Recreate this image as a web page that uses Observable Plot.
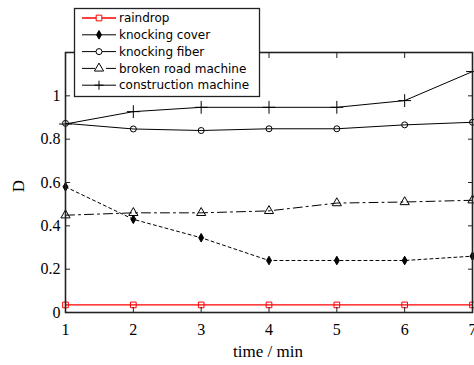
<!DOCTYPE html>
<html>
<head>
<meta charset="utf-8">
<script src="https://cdn.jsdelivr.net/npm/d3@7"></script>
<script src="https://cdn.jsdelivr.net/npm/@observablehq/plot@0.6"></script>
<style>
  html, body { margin: 0; padding: 0; background: #fff; }
  #chart svg { display: block; }
</style>
</head>
<body>
<div id="chart"></div>
<script>
const times = [1, 2, 3, 4, 5, 6, 7];
const seriesNames = ["raindrop", "knocking cover", "knocking fiber", "broken road machine", "construction machine"];
const raindrop = [0.035, 0.035, 0.035, 0.035, 0.035, 0.035, 0.035];
const knockingCover = [0.58, 0.43, 0.345, 0.24, 0.24, 0.24, 0.26];
const knockingFiber = [0.873, 0.847, 0.84, 0.848, 0.848, 0.866, 0.878];
const brokenRoad = [0.449, 0.46, 0.46, 0.469, 0.505, 0.51, 0.518];
const construction = [0.87, 0.927, 0.947, 0.947, 0.947, 0.978, 1.112];
const xTicks = [1, 2, 3, 4, 5, 6, 7];
const yTicks = [0, 0.2, 0.4, 0.6, 0.8, 1, 1.2];
const yTickLabels = ["0", "0.2", "0.4", "0.6", "0.8", "1", ""];

const allValues = [raindrop, knockingCover, knockingFiber, brokenRoad, construction];
const styles = [
  {stroke: "#ff0000", dash: null, symbol: "square", fill: "none", r: 3.2, width: 1.3},
  {stroke: "#000", dash: "3,3", symbol: "diamond", fill: "#000", r: 2.6, width: 1},
  {stroke: "#000", dash: null, symbol: "circle", fill: "none", r: 3, width: 1},
  {stroke: "#000", dash: "9,4,2,4", symbol: "triangle", fill: "none", r: 3.4, width: 1},
  {stroke: "#000", dash: null, symbol: "plus", fill: "none", r: 4.2, width: 1}
];

const marks = [];
seriesNames.forEach((name, i) => {
  const rows = times.map((t, j) => ({t, v: allValues[i][j]}));
  const s = styles[i];
  marks.push(Plot.line(rows, {x: "t", y: "v", stroke: s.stroke, strokeWidth: s.width, strokeDasharray: s.dash}));
  marks.push(Plot.dot(rows, {x: "t", y: "v", symbol: s.symbol, r: s.r, stroke: s.stroke, fill: s.fill, strokeWidth: 1}));
});

const plot = Plot.plot({
  width: 474,
  height: 365,
  marginLeft: 65,
  marginRight: 2,
  marginTop: 52,
  marginBottom: 53,
  style: {fontFamily: "'Liberation Serif', 'Times New Roman', serif", fontSize: "16px", color: "#000", background: "#fff"},
  x: {domain: [1, 7]},
  y: {domain: [0, 1.2]},
  marks: [
    ...marks,
    Plot.frame({stroke: "#222", strokeWidth: 1.6}),
    // inward tick marks on all four sides
    Plot.axisX({anchor: "bottom", ticks: xTicks, tickSize: 5, dy: -5, label: null, tickFormat: () => "", stroke: "#222"}),
    Plot.axisX({anchor: "top", ticks: xTicks, tickSize: 5, dy: 5, label: null, tickFormat: () => "", stroke: "#222"}),
    Plot.axisY({anchor: "left", ticks: yTicks, tickSize: 5, dx: 5, label: null, tickFormat: () => "", stroke: "#222"}),
    Plot.axisY({anchor: "right", ticks: yTicks, tickSize: 5, dx: -5, label: null, tickFormat: () => "", stroke: "#222"}),
    // tick labels
    Plot.axisX({anchor: "bottom", ticks: xTicks, tickSize: 0, tickPadding: 11, label: null, tickFormat: d => String(d)}),
    Plot.axisY({anchor: "left", ticks: yTicks, tickSize: 0, tickPadding: 5, label: null, tickFormat: (d, i) => yTickLabels[i]})
  ]
});

const svg = d3.select(plot);
// axis titles
svg.append("text").attr("x", 268).attr("y", 357).attr("text-anchor", "middle")
  .attr("font-family", "'Liberation Serif', serif").attr("font-size", 17).text("time / min");
svg.append("text").attr("transform", "translate(24,186) rotate(-90)").attr("text-anchor", "middle")
  .attr("font-family", "'Liberation Serif', serif").attr("font-size", 17).text("D");

// legend
const lg = svg.append("g");
lg.append("rect").attr("x", 74.5).attr("y", 8.5).attr("width", 185).attr("height", 88)
  .attr("fill", "#fff").attr("stroke", "#222").attr("stroke-width", 1.3);
const symTypes = {square: d3.symbolSquare, diamond: d3.symbolDiamond, circle: d3.symbolCircle, triangle: d3.symbolTriangle};
seriesNames.forEach((name, i) => {
  const s = styles[i];
  const y = 18 + i * 16.8;
  lg.append("line").attr("x1", 82).attr("x2", 116).attr("y1", y).attr("y2", y)
    .attr("stroke", s.stroke).attr("stroke-width", s.width)
    .attr("stroke-dasharray", i === 3 ? "13,4,3,4" : null);
  if (s.symbol === "plus") {
    lg.append("path").attr("d", `M99,${y-4.5}V${y+4.5}M94.5,${y}H103.5`).attr("stroke", "#000").attr("fill", "none");
  } else {
    lg.append("path").attr("transform", `translate(99,${y})`)
      .attr("d", d3.symbol(symTypes[s.symbol], Math.PI * s.r * s.r)())
      .attr("stroke", s.stroke).attr("fill", s.fill === "none" ? "#fff" : s.fill);
  }
  lg.append("text").attr("x", 119).attr("y", y).attr("dy", "0.35em").attr("text-anchor", "start")
    .attr("font-family", "'DejaVu Sans', sans-serif").attr("font-size", 12).text(name);
});

document.getElementById("chart").appendChild(plot);
</script>
</body>
</html>
